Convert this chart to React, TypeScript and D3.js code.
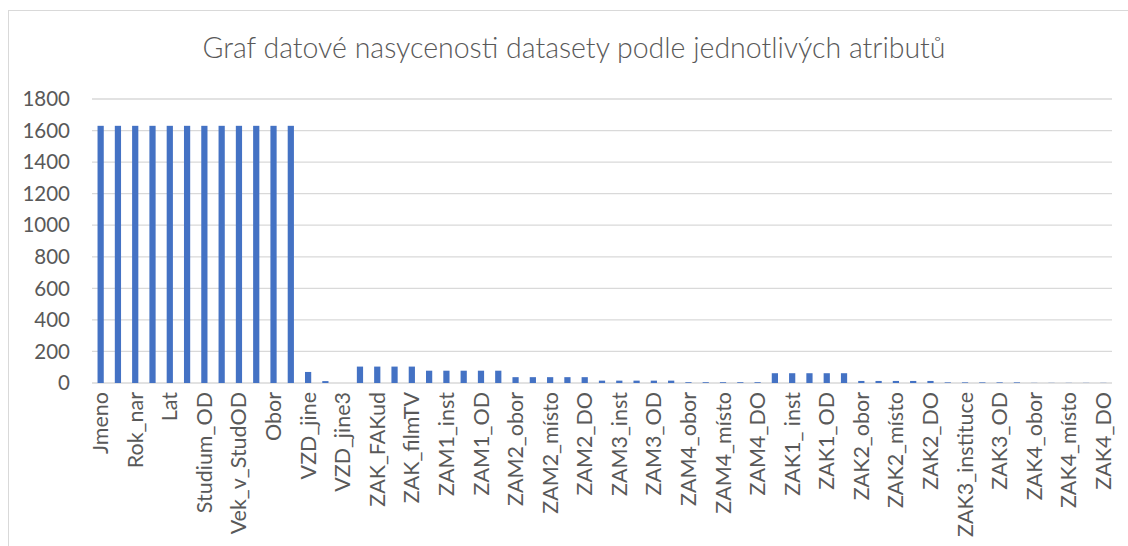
import * as d3 from "d3";

// attributes in dataset order (only every other one gets a label in the chart)
const attributes = [
  "Jmeno", "Prijmeni", "Rok_nar", "Pohlavi", "Lat", "Statni_prisl",
  "Studium_OD", "Studium_DO", "Vek_v_StudOD", "Fakulta", "Obor", "Absolvent",
  "VZD_jine", "VZD_jine2", "VZD_jine3",
  "ZAK_FAMU", "ZAK_FAKud", "ZAK_divadlo", "ZAK_filmTV",
  "ZAM1_obor", "ZAM1_inst", "ZAM1_místo", "ZAM1_OD", "ZAM1_DO",
  "ZAM2_obor", "ZAM2_inst", "ZAM2_místo", "ZAM2_OD", "ZAM2_DO",
  "ZAM3_obor", "ZAM3_inst", "ZAM3_místo", "ZAM3_OD", "ZAM3_DO",
  "ZAM4_obor", "ZAM4_inst", "ZAM4_místo", "ZAM4_OD", "ZAM4_DO",
  "ZAK1_obor", "ZAK1_ inst", "ZAK1_místo", "ZAK1_OD", "ZAK1_DO",
  "ZAK2_obor", "ZAK2_inst", "ZAK2_místo", "ZAK2_OD", "ZAK2_DO",
  "ZAK3_obor", "ZAK3_instituce", "ZAK3_místo", "ZAK3_OD", "ZAK3_DO",
  "ZAK4_obor", "ZAK4_inst", "ZAK4_místo", "ZAK4_OD", "ZAK4_DO",
];

// filled records per attribute
const filled = [
  1630, 1630, 1630, 1630, 1630, 1630,
  1630, 1630, 1630, 1630, 1630, 1630,
  70, 12, 0,
  104, 104, 104, 104,
  78, 78, 78, 78, 78,
  37, 37, 37, 37, 37,
  15, 15, 15, 15, 15,
  5, 5, 5, 5, 5,
  62, 62, 62, 62, 62,
  13, 13, 13, 13, 13,
  4, 4, 4, 4, 4,
  1, 1, 1, 1, 1,
];

const yTicks = [0, 200, 400, 600, 800, 1000, 1200, 1400, 1600, 1800];

const TITLE = "Graf datové nasycenosti datasety podle jednotlivých atributů";

export default function App() {
  const W = 1128;
  const H = 546;
  const left = 92;
  const right = 1112;
  const top = 99;
  const bottom = 383;

  const x = d3.scaleBand<string>()
    .domain(attributes)
    .range([left, right])
    .paddingInner(0.64)
    .paddingOuter(0.32);

  const y = d3.scaleLinear().domain([0, 1800]).range([bottom, top]);

  const textColor = "#595959";
  const font = "Lato, 'Open Sans', sans-serif";

  return (
    <svg
      width={W}
      height={H}
      style={{ position: "absolute", left: 0, top: 0, background: "#fff" }}
      fontFamily={font}
    >
      {/* chart frame */}
      <rect x={8.5} y={10.5} width={1200} height={700} fill="#fff" stroke="#d9d9d9" />

      <text x={574} y={58} textAnchor="middle" fontSize={28.5} fill={textColor} fontWeight={300}>
        {TITLE}
      </text>

      {/* gridlines */}
      {yTicks.map((t) => (
        <g key={t}>
          <line x1={left} x2={right} y1={y(t)} y2={y(t)} stroke="#d9d9d9" strokeWidth={1.3} />
          <text x={70} y={y(t)} dy="0.35em" textAnchor="end" fontSize={20.5} fill={textColor}>
            {t}
          </text>
        </g>
      ))}

      {/* bars */}
      {attributes.map((a, i) => (
        <rect
          key={a}
          x={x(a)}
          y={y(filled[i])}
          width={x.bandwidth()}
          height={bottom - y(filled[i])}
          fill="#4472c4"
        />
      ))}

      {/* category labels, every other one */}
      {attributes.map((a, i) =>
        i % 2 === 0 ? (
          <text
            key={a}
            transform={`translate(${(x(a) ?? 0) + x.bandwidth() / 2},${bottom + 9}) rotate(-90)`}
            textAnchor="end"
            dy="0.35em"
            fontSize={21.5}
            fill={textColor}
          >
            {a}
          </text>
        ) : null
      )}
    </svg>
  );
}
